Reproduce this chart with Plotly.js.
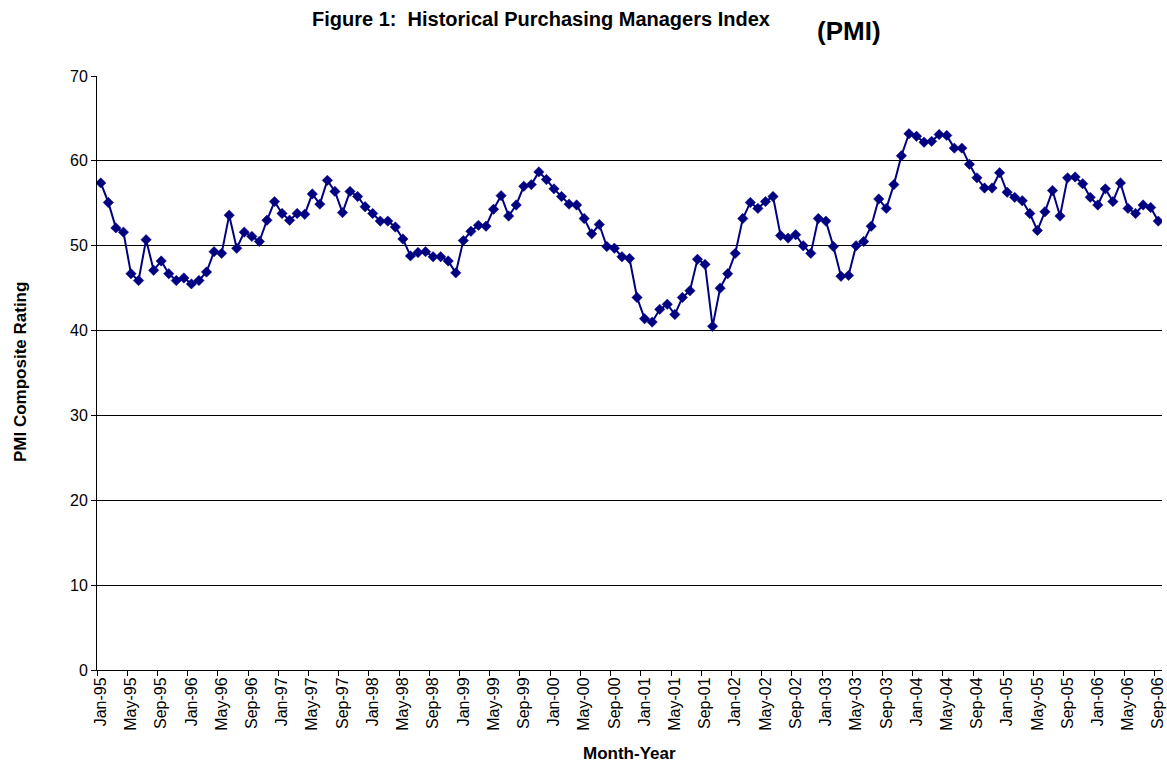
<!DOCTYPE html>
<html>
<head>
<meta charset="utf-8">
<script src="https://cdn.plot.ly/plotly-3.0.1.min.js"></script>
<style>
  html, body { margin: 0; padding: 0; background: #ffffff; }
  #chart { width: 1167px; height: 765px; }
</style>
</head>
<body>
<div id="chart"></div>
<script>
// Month-year categories (Jan-95 .. Sep-06)
const monthNames = ['Jan','Feb','Mar','Apr','May','Jun','Jul','Aug','Sep','Oct','Nov','Dec'];
const years = ['95','96','97','98','99','00','01','02','03','04','05','06'];
const months = [];
years.forEach(function (yy) {
  monthNames.forEach(function (m) { months.push(m + '-' + yy); });
});
months.length = 141; // ends at Sep-06

// PMI composite rating
const pmi = [
  // 1995
  57.4, 55.1, 52.1, 51.6, 46.7, 45.9, 50.7, 47.1, 48.2, 46.7, 45.9, 46.2,
  // 1996
  45.5, 45.9, 46.9, 49.3, 49.1, 53.6, 49.7, 51.6, 51.1, 50.5, 53.0, 55.2,
  // 1997
  53.8, 53.0, 53.8, 53.7, 56.1, 54.9, 57.7, 56.4, 53.9, 56.4, 55.8, 54.6,
  // 1998
  53.8, 52.9, 52.9, 52.2, 50.8, 48.8, 49.2, 49.3, 48.7, 48.7, 48.2, 46.8,
  // 1999
  50.6, 51.7, 52.4, 52.3, 54.3, 55.9, 53.5, 54.8, 57.0, 57.2, 58.7, 57.8,
  // 2000
  56.7, 55.8, 54.9, 54.8, 53.2, 51.4, 52.5, 49.9, 49.7, 48.7, 48.5, 43.9,
  // 2001
  41.4, 41.0, 42.5, 43.1, 41.9, 43.9, 44.7, 48.4, 47.8, 40.5, 45.0, 46.7,
  // 2002
  49.1, 53.2, 55.1, 54.4, 55.2, 55.8, 51.2, 50.9, 51.3, 50.0, 49.1, 53.2,
  // 2003
  52.9, 49.9, 46.4, 46.5, 50.0, 50.5, 52.3, 55.5, 54.4, 57.2, 60.6, 63.2,
  // 2004
  62.9, 62.2, 62.3, 63.1, 63.0, 61.5, 61.5, 59.6, 58.0, 56.8, 56.8, 58.6,
  // 2005
  56.3, 55.7, 55.3, 53.8, 51.8, 54.0, 56.5, 53.5, 58.0, 58.1, 57.3, 55.7,
  // 2006
  54.8, 56.7, 55.2, 57.4, 54.4, 53.8, 54.8, 54.5, 52.9
];

// Tick labels shown on the category axis
const tickLabels = [
  'Jan-95','May-95','Sep-95','Jan-96','May-96','Sep-96','Jan-97','May-97','Sep-97',
  'Jan-98','May-98','Sep-98','Jan-99','May-99','Sep-99','Jan-00','May-00','Sep-00',
  'Jan-01','May-01','Sep-01','Jan-02','May-02','Sep-02','Jan-03','May-03','Sep-03',
  'Jan-04','May-04','Sep-04','Jan-05','May-05','Sep-05','Jan-06','May-06','Sep-06'
];

const yTicks = [0, 10, 20, 30, 40, 50, 60, 70];

const xIdx = pmi.map(function (_, i) { return i; });
const tickIdx = tickLabels.map(function (t) { return months.indexOf(t); });

const FONT = 'Liberation Sans, Arial, Helvetica, sans-serif';

const trace = {
  type: 'scatter',
  mode: 'lines+markers',
  x: xIdx,
  y: pmi,
  text: months.slice(0, pmi.length),
  line: { color: '#000080', width: 2 },
  marker: { symbol: 'diamond', size: 8, color: '#000080', line: { width: 0.5, color: '#000080' } },
  hoverinfo: 'text+y',
  showlegend: false
};

const layout = {
  width: 1167,
  height: 765,
  margin: { l: 97, r: 5, t: 76, b: 95, pad: 0 },
  paper_bgcolor: '#ffffff',
  plot_bgcolor: '#ffffff',
  font: { family: FONT, size: 16, color: '#000000' },
  showlegend: false,
  xaxis: {
    range: [-0.5, pmi.length - 0.5],
    tickmode: 'array',
    tickvals: tickIdx,
    ticktext: tickLabels,
    tickangle: -90,
    ticks: '',
    tickfont: { family: FONT, size: 16, color: '#000000' },
    showgrid: false,
    zeroline: false,
    showline: true,
    linecolor: '#000000',
    linewidth: 1,
    minor: {
      tickmode: 'linear',
      tick0: -0.5,
      dtick: 4,
      ticks: 'outside',
      ticklen: 5,
      tickwidth: 1,
      tickcolor: '#000000',
      showgrid: false
    },
    fixedrange: true
  },
  yaxis: {
    range: [0, 70],
    tickmode: 'array',
    tickvals: yTicks,
    ticktext: yTicks.map(String),
    ticks: 'outside',
    ticklen: 5,
    tickwidth: 1,
    tickcolor: '#000000',
    tickfont: { family: FONT, size: 16, color: '#000000' },
    showgrid: true,
    gridcolor: '#000000',
    gridwidth: 1,
    zeroline: false,
    showline: true,
    linecolor: '#000000',
    linewidth: 1,
    fixedrange: true
  },
  annotations: [
    {
      text: '<b>Figure 1:  Historical Purchasing Managers Index</b>',
      xref: 'paper', yref: 'paper',
      x: (541 - 97) / 1065, y: (670 - 19) / 594,
      xanchor: 'center', yanchor: 'middle',
      showarrow: false,
      font: { family: FONT, size: 20, color: '#000000' }
    },
    {
      text: '<b>(PMI)</b>',
      xref: 'paper', yref: 'paper',
      x: (849 - 97) / 1065, y: (670 - 31) / 594,
      xanchor: 'center', yanchor: 'middle',
      showarrow: false,
      font: { family: FONT, size: 26, color: '#000000' }
    },
    {
      text: '<b>PMI Composite Rating</b>',
      xref: 'paper', yref: 'paper',
      x: (20 - 97) / 1065, y: (670 - 372) / 594,
      xanchor: 'center', yanchor: 'middle',
      textangle: -90,
      showarrow: false,
      font: { family: FONT, size: 17, color: '#000000' }
    },
    {
      text: '<b>Month-Year</b>',
      xref: 'paper', yref: 'paper',
      x: (629 - 97) / 1065, y: (670 - 753) / 594,
      xanchor: 'center', yanchor: 'middle',
      showarrow: false,
      font: { family: FONT, size: 17, color: '#000000' }
    }
  ]
};

Plotly.newPlot('chart', [trace], layout, { displayModeBar: false, staticPlot: true });
</script>
</body>
</html>
